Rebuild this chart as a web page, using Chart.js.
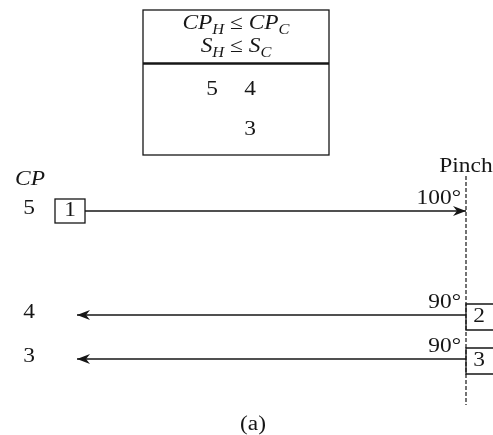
<!DOCTYPE html>
<html>
<head>
<meta charset="utf-8">
<script src="https://cdn.jsdelivr.net/npm/chart.js@4.4.0/dist/chart.umd.min.js"></script>
<style>
  html, body { margin: 0; padding: 0; background: #fff; }
  #grid { display: block; }
</style>
</head>
<body>
<canvas id="grid" width="493" height="435"></canvas>
<script>
// stream data
const streamIds = [1, 2, 3];
const streamCP = [5, 4, 3];
const streamKind = ['hot', 'cold', 'cold'];
const pinchTemps = [100, 90, 90];
// CP table above the pinch
const tableHotCP = [5];
const tableColdCP = [4, 3];
const figureLabel = '(a)';

// layout, in diagram units (one unit = one canvas px)
const W = 493, H = 435;
const pinchX = 466;
const pinchTop = 176, pinchBottom = 405;
const rowY = [211, 315, 359];
const hotStartX = 85;
const coldEndX = 77;
const ink = '#161616';
const serif = '"Liberation Serif", "DejaVu Serif", serif';
const stretch = 1.17; // the scanned type is set a little wide

const streamSets = streamIds.map((id, i) => ({
  label: 'Stream ' + id,
  data: streamKind[i] === 'hot'
    ? [{ x: hotStartX, y: rowY[i] }, { x: pinchX, y: rowY[i] }]
    : [{ x: pinchX, y: rowY[i] }, { x: coldEndX, y: rowY[i] }],
  showLine: true,
  borderColor: ink,
  borderWidth: 1.3,
  pointRadius: 0,
  arrow: true
}));

const pinchSet = {
  label: 'Pinch',
  data: [{ x: pinchX, y: pinchTop }, { x: pinchX, y: pinchBottom }],
  showLine: true,
  borderColor: ink,
  borderWidth: 1.2,
  borderDash: [4, 2],
  pointRadius: 0
};

function txt(ctx, s, x, y, size, opts) {
  opts = opts || {};
  ctx.save();
  ctx.font = (opts.italic ? 'italic ' : '') + size + 'px ' + serif;
  ctx.textAlign = opts.align || 'center';
  ctx.textBaseline = opts.baseline || 'middle';
  ctx.fillStyle = ink;
  ctx.translate(x, y);
  ctx.scale(stretch, 1);
  ctx.fillText(s, 0, 0);
  ctx.restore();
}

// runs: [text, size, italic, dy]
function richText(ctx, runs, cx, baseY) {
  let total = 0;
  runs.forEach(r => {
    ctx.font = (r[2] ? 'italic ' : '') + r[1] + 'px ' + serif;
    r.w = ctx.measureText(r[0]).width * stretch;
    total += r.w;
  });
  let x = cx - total / 2;
  runs.forEach(r => {
    txt(ctx, r[0], x, baseY + r[3], r[1], { italic: r[2], align: 'left', baseline: 'alphabetic' });
    x += r.w;
  });
}

const gridPlugin = {
  id: 'gridPlugin',
  beforeDraw(chart) {
    const ctx = chart.ctx;
    ctx.save();
    ctx.fillStyle = '#fff';
    ctx.fillRect(0, 0, chart.width, chart.height);
    ctx.restore();
  },
  afterDatasetsDraw(chart) {
    const ctx = chart.ctx;
    const xs = chart.scales.x, ys = chart.scales.y;
    const px = v => xs.getPixelForValue(v);
    const py = v => ys.getPixelForValue(v);
    ctx.save();

    // arrow heads
    chart.data.datasets.forEach((ds, di) => {
      if (!ds.arrow) return;
      const pts = chart.getDatasetMeta(di).data;
      const a = pts[0], b = pts[pts.length - 1];
      const dir = Math.sign(b.x - a.x);
      ctx.fillStyle = ink;
      ctx.beginPath();
      ctx.moveTo(b.x, b.y);
      ctx.lineTo(b.x - dir * 13, b.y - 5);
      ctx.lineTo(b.x - dir * 9, b.y);
      ctx.lineTo(b.x - dir * 13, b.y + 5);
      ctx.closePath();
      ctx.fill();
    });

    ctx.strokeStyle = ink;
    ctx.lineWidth = 1.3;

    // CP table
    const tL = px(143), tR = px(329);
    ctx.strokeRect(tL, py(10), tR - tL, py(155) - py(10));
    ctx.lineWidth = 2.6;
    ctx.beginPath();
    ctx.moveTo(tL, py(63.5));
    ctx.lineTo(tR, py(63.5));
    ctx.stroke();
    ctx.lineWidth = 1.3;
    richText(ctx, [['CP', 20, true, 0], ['H', 14, true, 5], [' \u2264 ', 20, false, 0], ['CP', 20, true, 0], ['C', 14, true, 5]], px(236), py(29));
    richText(ctx, [['S', 20, true, 0], ['H', 14, true, 5], [' \u2264 ', 20, false, 0], ['S', 20, true, 0], ['C', 14, true, 5]], px(236), py(52));
    tableHotCP.forEach((v, i) => txt(ctx, String(v), px(212), py(90 + i * 40), 20));
    tableColdCP.forEach((v, i) => txt(ctx, String(v), px(250), py(90 + i * 40), 20));

    // pinch title and CP header
    txt(ctx, 'Pinch', px(466), py(167), 20);
    txt(ctx, 'CP', px(30), py(180), 20, { italic: true });

    // streams: CP labels, boxes, pinch temperatures
    streamIds.forEach((id, i) => {
      const y = rowY[i];
      txt(ctx, String(streamCP[i]), px(29), py(y - 2), 20);
      txt(ctx, pinchTemps[i] + '\u00b0', px(pinchX - 5), py(y - 12), 20, { align: 'right' });
      if (streamKind[i] === 'hot') {
        const bx = hotStartX - 30;
        ctx.strokeRect(px(bx), py(y - 12), px(hotStartX) - px(bx), py(y + 12) - py(y - 12));
        txt(ctx, String(id), px(bx + 15), py(y), 20);
      } else {
        ctx.beginPath();
        ctx.moveTo(px(W + 2), py(y - 11));
        ctx.lineTo(px(pinchX), py(y - 11));
        ctx.lineTo(px(pinchX), py(y + 15));
        ctx.lineTo(px(W + 2), py(y + 15));
        ctx.stroke();
        txt(ctx, String(id), px(pinchX + 13), py(y + 2), 20);
      }
    });

    txt(ctx, figureLabel, px(253), py(425), 20);
    ctx.restore();
  }
};

new Chart(document.getElementById('grid').getContext('2d'), {
  type: 'scatter',
  data: { datasets: streamSets.concat([pinchSet]) },
  options: {
    responsive: false,
    animation: false,
    layout: { padding: 0 },
    plugins: { legend: { display: false }, tooltip: { enabled: false } },
    scales: {
      x: { type: 'linear', min: 0, max: W, display: false },
      y: { type: 'linear', min: 0, max: H, reverse: true, display: false }
    }
  },
  plugins: [gridPlugin]
});
</script>
</body>
</html>
